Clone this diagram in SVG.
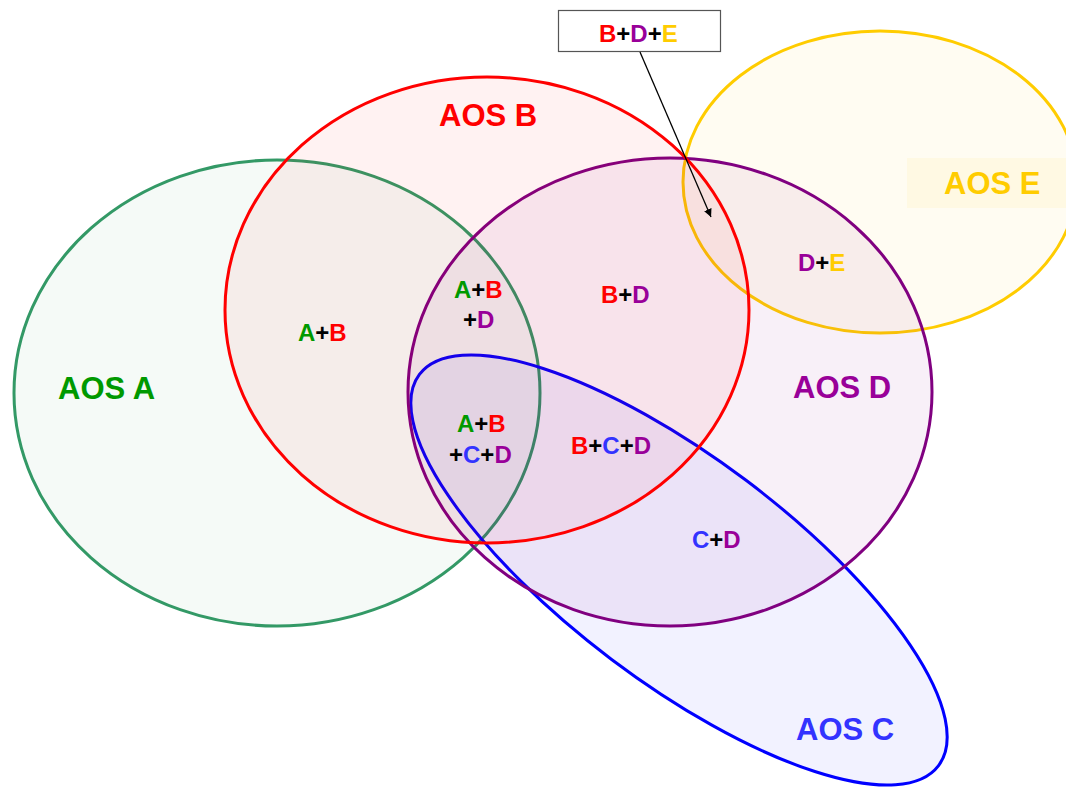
<svg xmlns="http://www.w3.org/2000/svg" width="1066" height="790" viewBox="0 0 1066 790">
<defs>
<style>
text{font-family:"Liberation Sans",Arial,sans-serif;font-weight:bold}
.big{font-size:31px}
.sm{font-size:24px}
.g{fill:#009900}.r{fill:#FF0000}.p{fill:#990099}.b{fill:#3333FF}.y{fill:#FFCC00}.k{fill:#000000}
.set{stroke-width:3}
</style>
<marker id="arr" viewBox="0 0 10 10" refX="10" refY="5" markerWidth="8" markerHeight="8" orient="auto" markerUnits="userSpaceOnUse">
<path d="M0,0 L10,5 L0,10 z" fill="#000"/>
</marker>
</defs>
<rect width="1066" height="790" fill="#FFFFFF"/>
<g id="aos-e">
<ellipse class="set" cx="880" cy="182" rx="197" ry="151" fill="#FFCC00" fill-opacity="0.05" stroke="#FFCC00"/>
<rect x="907" y="158" width="160" height="50" fill="#FFCC00" fill-opacity="0.06"/>
<text class="big y" x="944" y="194">AOS E</text>
</g>
<g id="aos-a">
<ellipse class="set" cx="277" cy="393" rx="263" ry="233" fill="#339966" fill-opacity="0.05" stroke="#339966"/>
<text class="big g" x="58" y="399">AOS A</text>
</g>
<g id="aos-c">
<ellipse class="set" cx="679" cy="570" rx="325" ry="112" transform="rotate(37 679 570)" fill="#0000FF" fill-opacity="0.05" stroke="#0000FF"/>
<text class="big b" x="796" y="740">AOS C</text>
</g>
<g id="aos-d">
<ellipse class="set" cx="670" cy="392" rx="262" ry="234" fill="#800080" fill-opacity="0.06" stroke="#800080"/>
<text class="big p" x="793" y="398">AOS D</text>
</g>
<g id="aos-b">
<ellipse class="set" cx="487" cy="310" rx="262" ry="233" fill="#FF0000" fill-opacity="0.05" stroke="#FF0000"/>
<text class="big r" x="439" y="126">AOS B</text>
</g>
<g id="region-labels">
<text class="sm" x="298" y="341"><tspan class="g">A</tspan><tspan class="k">+</tspan><tspan class="r">B</tspan></text>
<text class="sm" x="454" y="298"><tspan class="g">A</tspan><tspan class="k">+</tspan><tspan class="r">B</tspan></text>
<text class="sm" x="463" y="328"><tspan class="k">+</tspan><tspan class="p">D</tspan></text>
<text class="sm" x="457" y="432"><tspan class="g">A</tspan><tspan class="k">+</tspan><tspan class="r">B</tspan></text>
<text class="sm" x="449" y="463"><tspan class="k">+</tspan><tspan class="b">C</tspan><tspan class="k">+</tspan><tspan class="p">D</tspan></text>
<text class="sm" x="601" y="303"><tspan class="r">B</tspan><tspan class="k">+</tspan><tspan class="p">D</tspan></text>
<text class="sm" x="571" y="454"><tspan class="r">B</tspan><tspan class="k">+</tspan><tspan class="b">C</tspan><tspan class="k">+</tspan><tspan class="p">D</tspan></text>
<text class="sm" x="692" y="548"><tspan class="b">C</tspan><tspan class="k">+</tspan><tspan class="p">D</tspan></text>
<text class="sm" x="798" y="271"><tspan class="p">D</tspan><tspan class="k">+</tspan><tspan class="y">E</tspan></text>
</g>
<g id="callout-bde">
<rect x="558.5" y="10.5" width="162" height="41" fill="#FFFFFF" stroke="#555555" stroke-width="1.2"/>
<text class="sm" x="599" y="42"><tspan class="r">B</tspan><tspan class="k">+</tspan><tspan class="p">D</tspan><tspan class="k">+</tspan><tspan class="y">E</tspan></text>
</g>
<g id="connectors">
<line x1="640" y1="52" x2="711" y2="217" stroke="#000" stroke-width="1.3" marker-end="url(#arr)"/>
</g>
</svg>
